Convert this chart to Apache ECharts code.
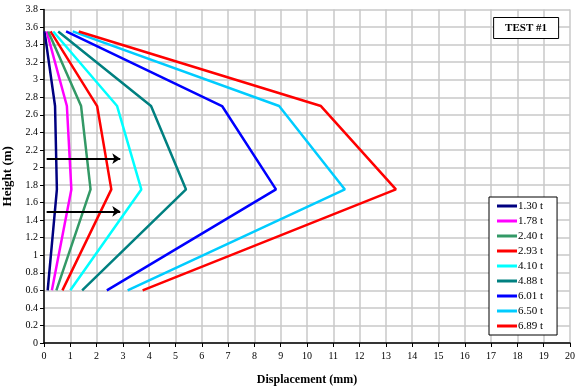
<!DOCTYPE html>
<html>
<head>
<meta charset="utf-8">
<script src="https://cdn.jsdelivr.net/npm/echarts@6/dist/echarts.min.js"></script>
<style>html,body{margin:0;padding:0;background:#fff}#c{width:577px;height:388px}</style>
</head>
<body>
<div id="c"></div>
<script>
const heights = [0.6, 1.75, 2.7, 3.55];
const loadNames = ['1.30 t','1.78 t','2.40 t','2.93 t','4.10 t','4.88 t','6.01 t','6.50 t','6.89 t'];
const disp130 = [0.14, 0.49, 0.42, 0.02];
const disp178 = [0.30, 1.04, 0.87, 0.10];
const disp240 = [0.47, 1.77, 1.41, 0.16];
const disp293 = [0.70, 2.56, 2.02, 0.25];
const disp410 = [1.00, 3.70, 2.78, 0.35];
const disp488 = [1.45, 5.40, 4.07, 0.54];
const disp601 = [2.39, 8.82, 6.77, 0.84];
const disp650 = [3.18, 11.44, 8.94, 1.09];
const disp689 = [3.75, 13.38, 10.53, 1.32];
const colors = ['#000080','#ff00ff','#339966','#ff0000','#00ffff','#008080','#0000ff','#00ccff','#ff0000'];
const arrowHeights = [2.1, 1.5];
const arrowStart = 0.1, arrowEnd = 2.9;
const xTicks = [0,20,1];
const yTicks = [0,3.8,0.2];

const allDisp = [disp130,disp178,disp240,disp293,disp410,disp488,disp601,disp650,disp689];
const font = 'Liberation Serif';
const series = allDisp.map((d,i)=>({
  name: loadNames[i], type:'line', symbol:'none', showSymbol:false,
  data: d.map((x,j)=>[x,heights[j]]),
  lineStyle:{color:colors[i], width:2.5}, itemStyle:{color:colors[i]},
  z: 3
}));
series.push({
  name:'arrows', type:'line', data:[], symbol:'none',
  markLine:{
    silent:true, symbol:['none','arrow'], symbolSize:[8,8],
    label:{show:false},
    lineStyle:{color:'#000', width:2, type:'solid'},
    data: arrowHeights.map(h=>[{coord:[arrowStart,h]},{coord:[arrowEnd,h]}])
  }
});
const chart = echarts.init(document.getElementById('c'));
chart.setOption({
  animation:false,
  backgroundColor:'#fff',
  title:{
    text:'TEST #1', right:18, top:17,
    borderColor:'#000', borderWidth:1, padding:[6,12,5,12], backgroundColor:'#fff',
    textStyle:{fontFamily:font, fontWeight:'bold', fontSize:11, color:'#000'}
  },
  legend:{
    data: loadNames, orient:'vertical', left:489, top:197,
    backgroundColor:'#fff', borderColor:'#000', borderWidth:1,
    padding:[3,14,3,8], itemGap:3, itemWidth:20, itemHeight:3, icon:'rect',
    textStyle:{fontFamily:font, fontSize:11, color:'#000', padding:[0,0,0,-4], lineHeight:12}
  },
  grid:{left:44, right:7, top:9.5, bottom:45, containLabel:false, outerBoundsMode:'none'},
  xAxis:{
    type:'value', min:xTicks[0], max:xTicks[1], interval:xTicks[2],
    name:'Displacement (mm)', nameLocation:'middle', nameGap:31,
    nameTextStyle:{fontFamily:font, fontWeight:'bold', fontSize:12, color:'#000'},
    axisLine:{show:true, onZero:false, lineStyle:{color:'#000', width:1.5}},
    axisTick:{show:true, length:4, lineStyle:{color:'#000'}},
    axisLabel:{fontFamily:font, fontSize:10, color:'#000', margin:8},
    splitLine:{show:true, lineStyle:{color:'#c8c8c8', width:1.5}}
  },
  yAxis:{
    type:'value', min:yTicks[0], max:yTicks[1], interval:yTicks[2],
    name:'Height (m)', nameLocation:'middle', nameGap:27, nameRotate:90,
    nameTextStyle:{fontFamily:font, fontWeight:'bold', fontSize:13, color:'#000'},
    axisLine:{show:true, onZero:false, lineStyle:{color:'#000', width:1.5}},
    axisTick:{show:true, length:4, lineStyle:{color:'#000'}},
    axisLabel:{fontFamily:font, fontSize:10, color:'#000', margin:6,
      formatter:v=>String(Math.round(v*10)/10)},
    splitLine:{show:true, lineStyle:{color:'#c8c8c8', width:1.5}}
  },
  series: series
});
</script>
</body>
</html>
